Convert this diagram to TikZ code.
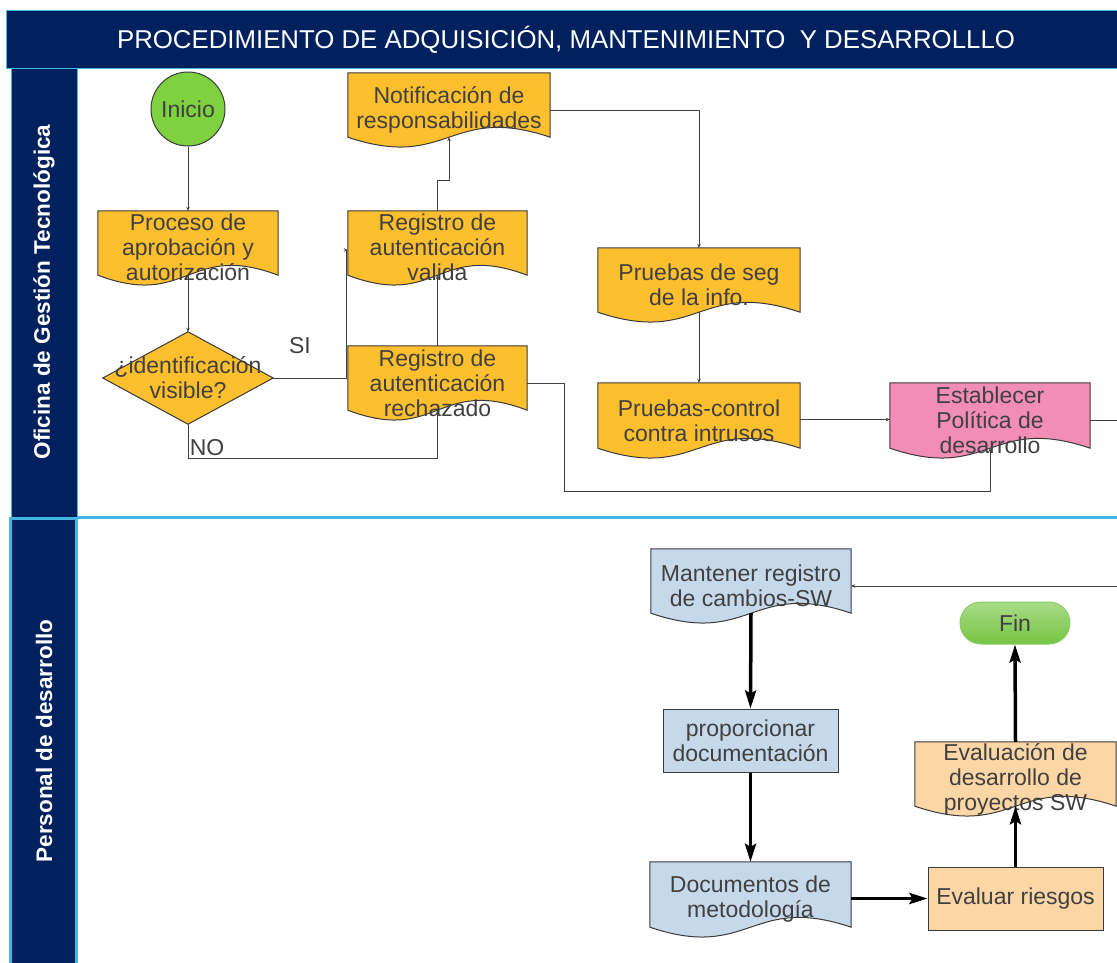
\documentclass[tikz,border=0pt]{standalone}
\usepackage{fontspec}
\setmainfont{Liberation Sans}
\usetikzlibrary{arrows.meta,backgrounds,calc}

\definecolor{navy}{HTML}{00215E}
\definecolor{skyline}{HTML}{43B6E4}
\definecolor{docorange}{HTML}{FDBF2D}
\definecolor{docpink}{HTML}{F28DB6}
\definecolor{startgreen}{HTML}{7ED13F}
\definecolor{paleblue}{HTML}{C5D9EB}
\definecolor{peach}{HTML}{FDD6A6}
\definecolor{inktext}{HTML}{404040}
\definecolor{outline}{HTML}{3A3A3A}
\definecolor{fintop}{HTML}{A9DC88}
\definecolor{finbottom}{HTML}{76C442}
\definecolor{finedge}{HTML}{8CCB66}

\tikzset{
  txt/.style={font=\fontsize{23}{25}\selectfont, text=inktext, align=center, inner sep=0pt},
  holder/.style={rectangle, inner sep=0pt, draw=none},
  procbox/.style={rectangle, inner sep=0pt, draw=outline, line width=1pt, txt},
  shapeline/.style={draw=outline, line width=1pt},
  flow/.style={draw=inktext, line width=1pt, -{Stealth[length=4pt,width=3.5pt]}},
  boldflow/.style={draw=black, line width=3.5pt, -{Stealth[length=18pt,width=11pt,inset=3pt]}},
  lanetext/.style={font=\fontsize{22.5}{25}\selectfont\bfseries, text=white, rotate=90, inner sep=0pt},
}

% document symbol with a wavy lower edge, built on a holder node
\newcommand\wavedoc[2]{%
  \path[shapeline, fill=#2] (#1.north west) -- (#1.north east) -- (#1.south east)
    .. controls ($(#1.south)+(0,-34)$) and ($(#1.south)+(0,34)$) .. (#1.south west) -- cycle;}

\begin{document}
\begin{tikzpicture}[x=1pt,y=-1pt]
\useasboundingbox (0,0) rectangle (1117,962);

% title band
\path[fill=navy, draw=skyline, line width=1pt] (6,10) rectangle (1125,68);
\node[font=\fontsize{25.8}{30}\selectfont, text=white, inner sep=0pt] (title) at (566,40)
  {PROCEDIMIENTO DE ADQUISICIÓN, MANTENIMIENTO\ \ Y DESARROLLLO};

% swimlane headers
\path[fill=navy, draw=skyline, line width=1pt] (11,68) rectangle (77,517);
\path[fill=navy, draw=skyline, line width=3pt] (10.5,518.5) rectangle (76.5,970);
\draw[skyline, line width=3pt] (77,517) -- (1125,517);
\node[lanetext] (lane1) at (44,292) {Oficina de Gestión Tecnológica};
\node[lanetext] (lane2) at (44,741) {Personal de desarrollo};

% ---- Oficina de Gestión Tecnológica ----
\node[circle, minimum size=74, fill=startgreen, draw=outline, line width=1pt, txt] (ini) at (188,109) {Inicio};

\node[holder, minimum width=180, minimum height=64,
  label={[txt, yshift=-4pt]center:{Proceso de\\aprobación y\\autorización}}] (proc) at (188,243) {};

\node[holder, minimum width=170, minimum height=92, txt] (dec) at (188,378) {¿identificación\\visible?};

\node[holder, minimum width=179, minimum height=64,
  label={[txt, yshift=-4pt]center:{Registro de\\autenticación\\valida}}] (valida) at (437.5,243) {};

\node[holder, minimum width=179, minimum height=64,
  label={[txt, yshift=-5pt]center:{Registro de\\autenticación\\rechazado}}] (rech) at (437.5,378) {};

\node[holder, minimum width=202, minimum height=64,
  label={[txt, yshift=-5pt]center:{Notificación de\\responsabilidades}}] (notif) at (449,105) {};

\node[holder, minimum width=202, minimum height=64,
  label={[txt, yshift=-5pt]center:{Pruebas de seg\\de la info.}}] (seg) at (699,280) {};

\node[holder, minimum width=202, minimum height=65,
  label={[txt, yshift=-5pt]center:{Pruebas-control\\contra intrusos}}] (ctrl) at (699,415.5) {};

\node[holder, minimum width=200, minimum height=65,
  label={[txt, yshift=-5pt]center:{Establecer\\Política de\\desarrollo}}] (estab) at (990,415.5) {};

\node[txt] (si) at (300,346) {SI};
\node[txt] (no) at (207,448) {NO};

% ---- Personal de desarrollo ----
\node[holder, minimum width=200, minimum height=64,
  label={[txt, yshift=-4.5pt]center:{Mantener registro\\de cambios-SW}}] (mant) at (751,581) {};

\node[procbox, fill=paleblue, minimum width=175, minimum height=63] (prop) at (750.5,740.5)
  {proporcionar\\documentación};

\node[holder, minimum width=201, minimum height=65,
  label={[txt, yshift=-5pt]center:{Documentos de\\metodología}}] (docs) at (750.5,894.5) {};

\node[procbox, fill=peach, minimum width=175, minimum height=63] (risk) at (1015.5,898.5)
  {Evaluar riesgos};

\node[holder, minimum width=201, minimum height=64,
  label={[txt, yshift=-5pt]center:{Evaluación de\\desarrollo de\\proyectos SW}}] (evalu) at (1015.5,774) {};

\node[rectangle, rounded corners=21, minimum width=110, minimum height=42,
  top color=fintop, bottom color=finbottom, draw=finedge, line width=1pt, txt] (fin) at (1015,623) {Fin};

% symbol outlines behind the texts
\begin{scope}[on background layer]
  \wavedoc{proc}{docorange}
  \wavedoc{valida}{docorange}
  \wavedoc{rech}{docorange}
  \wavedoc{notif}{docorange}
  \wavedoc{seg}{docorange}
  \wavedoc{ctrl}{docorange}
  \wavedoc{estab}{docpink}
  \wavedoc{mant}{paleblue}
  \wavedoc{docs}{paleblue}
  \wavedoc{evalu}{peach}
  \path[shapeline, fill=docorange] (dec.north) -- (dec.east) -- (dec.south) -- (dec.west) -- cycle;
\end{scope}

% connectors, first lane
\draw[flow] (ini.south) -- (proc.north);
\draw[flow] (proc.south) -- (dec.north);
\draw[flow] (dec.east) -- ++(73,0) |- ([yshift=-7pt]valida.west);
\draw[flow] (dec.south) -- ++(0,34) -| (rech.south);
\draw[flow] (rech.north) -- (valida.south);
\draw[flow] (valida.north) -- ++(0,-30) -| (notif.south);
\draw[flow] ([yshift=-5pt]notif.east) -| (seg.north);
\draw[flow] (seg.south) -- (ctrl.north);
\draw[flow] ([yshift=-4pt]ctrl.east) -- ([yshift=-4pt]estab.west);
\draw[flow] ([yshift=-5pt]rech.east) -- ++(37,0) -- ++(0,108) -| (estab.south);
\coordinate (outA) at (1117,420);
\coordinate (outB) at (1117,586);
\draw[draw=inktext, line width=1pt] ([yshift=-4.5pt]estab.east) -- (outA);
\draw[flow] (outB) -- ([yshift=-5pt]mant.east);

% connectors, second lane
\draw[boldflow] (mant.south) -- (prop.north);
\draw[boldflow] (prop.south) -- (docs.north);
\draw[boldflow] ([yshift=-4pt]docs.east) -- (risk.west);
\draw[boldflow] (risk.north) -- (evalu.south);
\draw[boldflow] (evalu.north) -- (fin.south);
\end{tikzpicture}
\end{document}
